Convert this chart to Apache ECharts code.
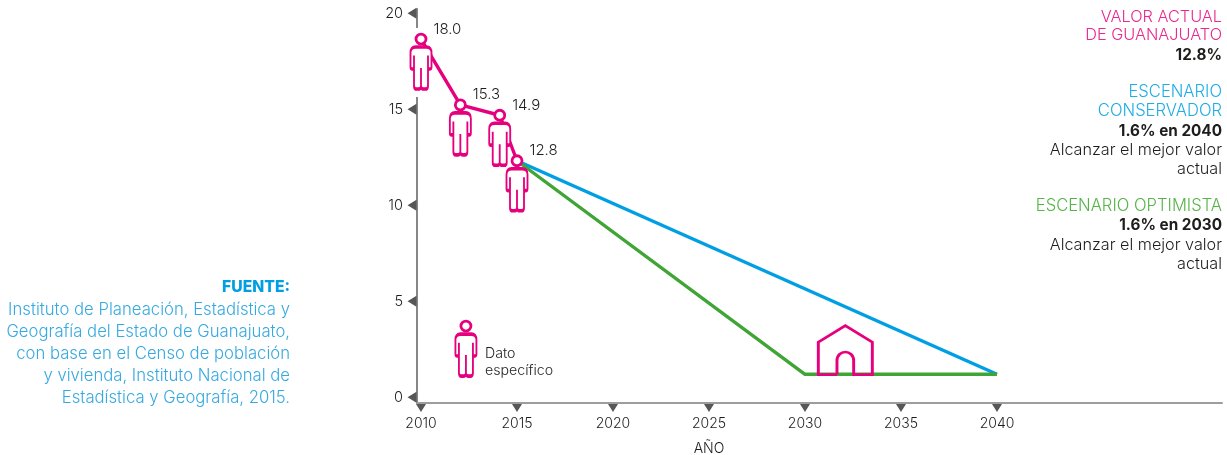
<!DOCTYPE html>
<html><head><meta charset="utf-8">
<style>html,body{margin:0;padding:0;background:#fff}#c{width:1227px;height:455px}</style>
<script src="https://cdn.jsdelivr.net/npm/echarts@6/dist/echarts.min.js"></script>
</head><body><div id="c"></div>
<script>
const tickYears = [2010, 2015, 2020, 2025, 2030, 2035, 2040];
const tickValues = [0, 5, 10, 15, 20];
const actualPoints = [[2010, 18.66], [2012.05, 15.23], [2014.1, 14.69], [2015, 12.32]];
const actualLabels = ['18.0', '15.3', '14.9', '12.8'];
const conservador = [[2015, 12.32], [2040, 1.2]];
const optimista = [[2015, 12.32], [2030, 1.2], [2040, 1.2]];
const housePoint = [[2032.1, 2.46]];
const legendHead = [[2012.34, 3.71]];
const fuenteLines = ['Instituto de Planeación, Estadística y', 'Geografía del Estado de Guanajuato,', 'con base en el Censo de población', 'y vivienda, Instituto Nacional de', 'Estadística y Geografía, 2015.'];

const PINK = '#e6007e', BLUE = '#009fe3', GREEN = '#3fa535', FONT = 'Inter', INK = '#1d1d1b';
const xMin = 2010 - 4 / 19.2, xMax = 2010 + 801 / 19.2;
const yMin = -5.7 / 19.2, yMax = 388.3 / 19.2;
const bodyPath = 'path://M6 0H18Q24 0 24 6V21Q24 23 22 23Q20 23 20 21V9V41Q20 44 17 44H15Q12 44 12 41V22V41Q12 44 9 44H7Q4 44 4 41V9V21Q4 23 2 23Q0 23 0 21V6Q0 0 6 0Z';
const housePath = 'path://M19 50H0V17L27.5 0L55 17V50H36V36C36 24 19 24 19 36V50';

function txt(x, y, text, fill, size, align, weight) {
  return { type: 'text', x, y, silent: true, style: { text, fill, font: (weight || 300) + ' ' + size + 'px ' + FONT, textAlign: align || 'right', textVerticalAlign: 'middle' } };
}
const side = [
  txt(1222, 17, 'VALOR ACTUAL', '#e9298f', 16.3), txt(1222, 35, 'DE GUANAJUATO', '#e9298f', 16.3), txt(1222, 55, '12.8%', INK, 15.3, 'right', 700),
  txt(1222, 92, 'ESCENARIO', '#1fade6', 16.6), txt(1222, 111, 'CONSERVADOR', '#1fade6', 16.6), txt(1222, 131, '1.6% en 2040', INK, 15.3, 'right', 700),
  txt(1222, 150, 'Alcanzar el mejor valor', INK, 16.2), txt(1222, 169, 'actual', INK, 16.2),
  txt(1222, 206, 'ESCENARIO OPTIMISTA', '#56b348', 16.6), txt(1222, 225, '1.6% en 2030', INK, 15.3, 'right', 700),
  txt(1222, 245, 'Alcanzar el mejor valor', INK, 16.2), txt(1222, 264, 'actual', INK, 16.2),
  txt(290, 287, 'FUENTE:', BLUE, 15.7, 'right', 800),
  ...fuenteLines.map((t, i) => txt(290, 310 + i * 22, t, '#36a9e1', 16.7)),
  txt(485, 354, 'Dato', INK, 14.2, 'left'), txt(485, 371, 'específico', INK, 14.2, 'left'),
  txt(709, 449, 'AÑO', INK, 14, 'center')
];

const chart = echarts.init(document.getElementById('c'), null, { renderer: 'canvas' });
chart.setOption({
  animation: false,
  backgroundColor: '#fff',
  grid: { left: 417, right: 5, top: 9, bottom: 52 },
  xAxis: {
    type: 'value', min: xMin, max: xMax, splitLine: { show: false },
    axisLine: { onZero: false, lineStyle: { color: '#9d9d9c', width: 2 } },
    axisTick: { show: false },
    axisLabel: { customValues: tickYears, color: INK, fontFamily: FONT, fontWeight: 300, fontSize: 14, margin: 14, formatter: v => String(v) }
  },
  yAxis: {
    type: 'value', min: yMin, max: yMax, splitLine: { show: false },
    axisLine: { onZero: false, lineStyle: { color: '#878787', width: 2 } },
    axisTick: { show: false },
    axisLabel: { customValues: tickValues, color: INK, fontFamily: FONT, fontWeight: 300, fontSize: 14.5, margin: 14, formatter: v => String(v) }
  },
  graphic: { elements: side },
  series: [
    { type: 'scatter', silent: true, z: 2, clip: false, symbol: 'triangle', symbolRotate: 180, symbolSize: [10, 8], symbolOffset: [0, 5], itemStyle: { color: '#575756', opacity: 1 }, data: tickYears.map(y => [y, yMin]) },
    { type: 'scatter', silent: true, z: 4, clip: false, symbol: 'triangle', symbolRotate: 90, symbolSize: [11, 9], symbolOffset: [-5, 0], itemStyle: { color: '#575756', opacity: 1 }, data: tickValues.map(v => [xMin, v]) },
    { type: 'scatter', silent: true, z: 3, clip: false, symbol: 'rect', symbolSize: [8, 69], itemStyle: { color: '#fff', opacity: 1 }, data: [[xMin, 17.44]] },
    { type: 'line', name: 'Conservador', z: 4, silent: true, symbol: 'none', lineStyle: { color: BLUE, width: 3.4 }, data: conservador },
    { type: 'line', name: 'Optimista', z: 5, silent: true, symbol: 'none', lineStyle: { color: GREEN, width: 3.4 }, data: optimista },
    { type: 'line', name: 'Actual', z: 6, silent: true, symbol: 'none', lineStyle: { color: PINK, width: 3.4 }, data: actualPoints },
    { type: 'scatter', z: 7, silent: true, symbol: bodyPath, symbolSize: [21, 42], symbolOffset: [0, 29], itemStyle: { color: '#fff', borderColor: PINK, borderWidth: 2.6, opacity: 1 }, data: actualPoints.concat(legendHead) },
    { type: 'scatter', z: 8, silent: true, symbol: 'circle', symbolSize: 10, itemStyle: { color: '#fff', borderColor: PINK, borderWidth: 2.8, opacity: 1 }, data: actualPoints.concat(legendHead) },
    { type: 'scatter', z: 9, silent: true, symbol: 'circle', symbolSize: 1, itemStyle: { color: 'rgba(0,0,0,0)', opacity: 1 },
      label: { show: true, position: 'right', distance: 0, offset: [12, -10], color: INK, fontFamily: FONT, fontWeight: 300, fontSize: 15, formatter: p => actualLabels[p.dataIndex] },
      data: actualPoints },
    { type: 'scatter', z: 9, silent: true, symbol: housePath, symbolSize: [54, 49], itemStyle: { color: 'rgba(0,0,0,0)', borderColor: PINK, borderWidth: 2.8, opacity: 1 }, data: housePoint }
  ]
});
</script></body></html>
